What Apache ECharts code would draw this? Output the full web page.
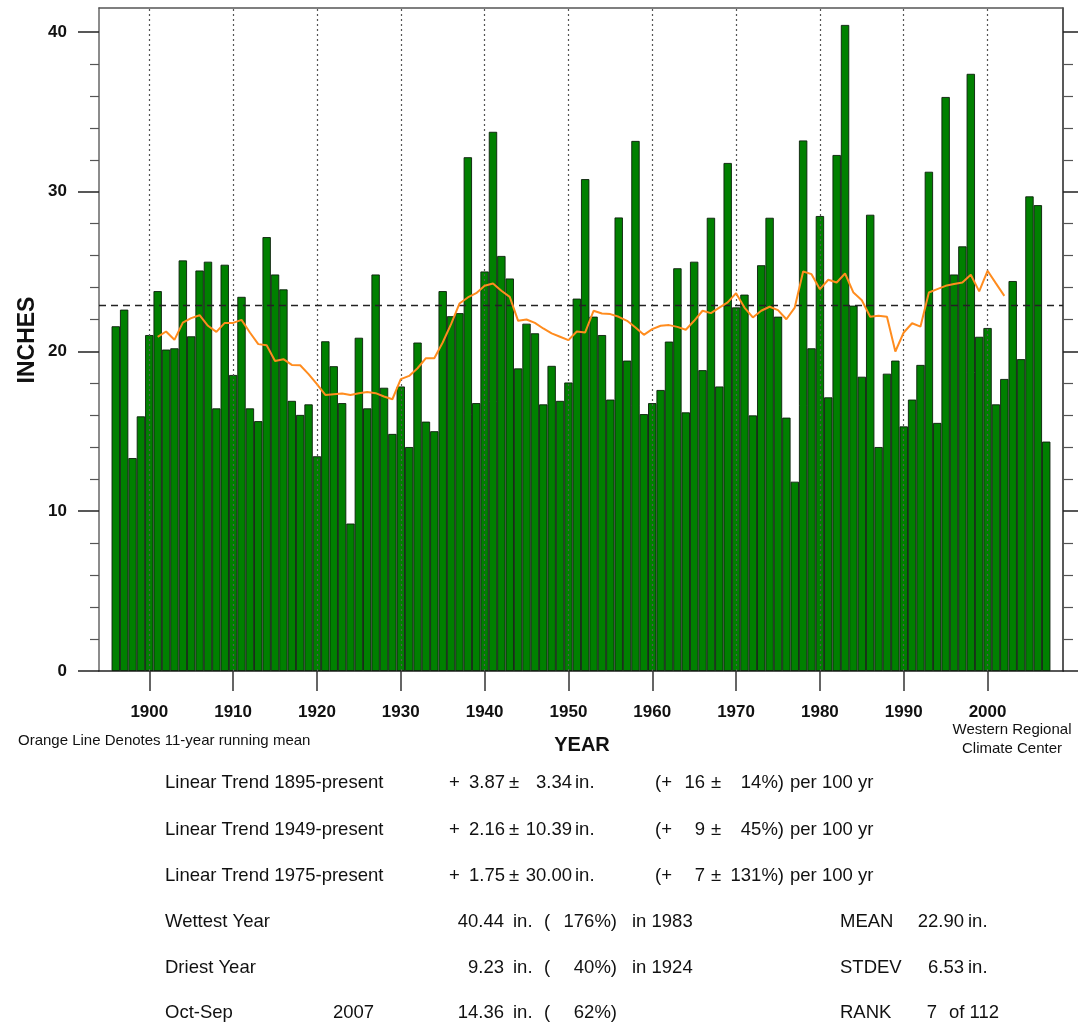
<!DOCTYPE html>
<html><head><meta charset="utf-8">
<script src="https://cdn.jsdelivr.net/npm/echarts@6/dist/echarts.min.js"></script>
<style>html,body{margin:0;padding:0;background:#fff}#c{width:1081px;height:1027px}</style>
</head><body><div id="c"></div>
<script>
// ---------- DATA ----------
const years = [1896,1897,1898,1899,1900,1901,1902,1903,1904,1905,1906,1907,1908,1909,1910,1911,1912,1913,1914,1915,1916,1917,1918,1919,1920,1921,1922,1923,1924,1925,1926,1927,1928,1929,1930,1931,1932,1933,1934,1935,1936,1937,1938,1939,1940,1941,1942,1943,1944,1945,1946,1947,1948,1949,1950,1951,1952,1953,1954,1955,1956,1957,1958,1959,1960,1961,1962,1963,1964,1965,1966,1967,1968,1969,1970,1971,1972,1973,1974,1975,1976,1977,1978,1979,1980,1981,1982,1983,1984,1985,1986,1987,1988,1989,1990,1991,1992,1993,1994,1995,1996,1997,1998,1999,2000,2001,2002,2003,2004,2005,2006,2007];
const precipInches = [21.58,22.62,13.33,15.94,21.03,23.78,20.12,20.20,25.70,20.95,25.07,25.62,16.44,25.43,18.53,23.42,16.44,15.64,27.16,24.82,23.89,16.91,16.03,16.69,13.44,20.64,19.08,16.77,9.23,20.86,16.44,24.82,17.73,14.84,17.81,14.02,20.56,15.61,15.01,23.78,22.21,22.40,32.16,16.77,25.01,33.75,25.98,24.57,18.94,21.74,21.14,16.69,19.10,16.91,18.06,23.31,30.79,22.18,21.03,16.99,28.39,19.43,33.18,16.08,16.77,17.59,20.62,25.21,16.19,25.62,18.83,28.37,17.81,31.80,22.76,23.56,16.00,25.40,28.37,22.18,15.86,11.85,33.21,20.20,28.48,17.13,32.30,40.44,22.87,18.42,28.56,14.02,18.61,19.43,15.31,16.99,19.16,31.25,15.53,35.93,24.82,26.58,37.38,20.92,21.47,16.69,18.28,24.41,19.52,29.71,29.16,14.36];
const meanYears = [1901,1902,1903,1904,1905,1906,1907,1908,1909,1910,1911,1912,1913,1914,1915,1916,1917,1918,1919,1920,1921,1922,1923,1924,1925,1926,1927,1928,1929,1930,1931,1932,1933,1934,1935,1936,1937,1938,1939,1940,1941,1942,1943,1944,1945,1946,1947,1948,1949,1950,1951,1952,1953,1954,1955,1956,1957,1958,1959,1960,1961,1962,1963,1964,1965,1966,1967,1968,1969,1970,1971,1972,1973,1974,1975,1976,1977,1978,1979,1980,1981,1982,1983,1984,1985,1986,1987,1988,1989,1990,1991,1992,1993,1994,1995,1996,1997,1998,1999,2000,2001,2002];
const runningMean = [20.92,21.25,20.73,21.81,22.09,22.27,21.61,21.23,21.79,21.79,21.98,21.19,20.46,20.39,19.41,19.52,19.16,19.14,18.58,17.95,17.28,17.33,17.37,17.28,17.39,17.47,17.39,17.18,17.01,18.27,18.47,18.95,19.58,19.58,20.56,21.71,23.00,23.38,23.65,24.11,24.26,23.80,23.42,21.92,22.00,21.79,21.44,21.13,20.92,20.71,21.25,21.19,22.55,22.38,22.34,22.17,21.92,21.50,21.04,21.40,21.61,21.65,21.54,21.36,21.92,22.55,22.40,22.75,23.07,23.65,22.75,22.13,22.55,22.80,22.59,22.02,22.75,25.01,24.84,23.90,24.49,24.32,24.88,23.69,23.21,22.17,22.23,22.17,20.00,21.19,21.77,21.56,23.69,23.90,24.11,24.22,24.32,24.80,23.76,25.05,24.26,23.48];
const meanValue = 22.90;
const xTickLabels = [1900,1910,1920,1930,1940,1950,1960,1970,1980,1990,2000];
const yMajorTicks = [0,10,20,30,40];
const yMinorTicks = [2,4,6,8,12,14,16,18,22,24,26,28,32,34,36,38];
const trendRows = [
  {label:'Linear Trend 1895-present', v:'3.87', e:'3.34', p:'16', pe:'14'},
  {label:'Linear Trend 1949-present', v:'2.16', e:'10.39', p:'9', pe:'45'},
  {label:'Linear Trend 1975-present', v:'1.75', e:'30.00', p:'7', pe:'131'}
];
const statRows = [
  {label:'Wettest Year', year:'', v:'40.44', pct:'176%)', when:'in 1983', sLabel:'MEAN', sVal:'22.90', sUnit:'in.'},
  {label:'Driest Year', year:'', v:'9.23', pct:'40%)', when:'in 1924', sLabel:'STDEV', sVal:'6.53', sUnit:'in.'},
  {label:'Oct-Sep', year:'2007', v:'14.36', pct:'62%)', when:'', sLabel:'RANK', sVal:'7', sUnit:'of 112'}
];

// ---------- CHART ----------
const FF = "'Liberation Sans', Arial, Helvetica, sans-serif";
const chart = echarts.init(document.getElementById('c'), null, {renderer:'canvas'});
const gridL = 99, gridR = 18, gridT = 8, gridB = 356;
const xMin = 1894, xMax = 2009, yMax = 41.5;
const barW = (1081 - gridL - gridR) / (xMax - xMin);

function txt(s, x, y, align, size, weight, extra) {
  return Object.assign({type:'text', x:x, y:y, silent:true, z:100,
    style:{text:s, fill:'#111', textAlign:align, textVerticalAlign:'middle',
      fontSize:size, fontWeight:weight||'normal', fontFamily:FF}}, extra||{});
}
const graphics = [];
graphics.push(txt('INCHES', 28, 340, 'center', 23, 'bold', {rotation: Math.PI/2}));
graphics.push(txt('YEAR', 582, 745, 'center', 20, 'bold'));
graphics.push(txt('Orange Line Denotes 11-year running mean', 18, 741, 'left', 15));
graphics.push(txt('Western Regional', 1012, 730, 'center', 15));
graphics.push(txt('Climate Center', 1012, 749, 'center', 15));
const rowY = [783, 830, 876, 922, 968, 1013];
const TS = 18.5;
trendRows.forEach((r, i) => {
  const y = rowY[i];
  graphics.push(txt(r.label, 165, y, 'left', TS));
  graphics.push(txt('+', 449, y, 'left', TS));
  graphics.push(txt(r.v, 505, y, 'right', TS));
  graphics.push(txt('\u00b1', 509, y, 'left', TS));
  graphics.push(txt(r.e, 572, y, 'right', TS));
  graphics.push(txt('in.', 575, y, 'left', TS));
  graphics.push(txt('(+', 655, y, 'left', TS));
  graphics.push(txt(r.p, 705, y, 'right', TS));
  graphics.push(txt('\u00b1', 711, y, 'left', TS));
  graphics.push(txt(r.pe + '%)', 784, y, 'right', TS));
  graphics.push(txt('per 100 yr', 790, y, 'left', TS));
});
statRows.forEach((r, i) => {
  const y = rowY[3 + i];
  graphics.push(txt(r.label, 165, y, 'left', TS));
  if (r.year) graphics.push(txt(r.year, 333, y, 'left', TS));
  graphics.push(txt(r.v, 504, y, 'right', TS));
  graphics.push(txt('in.', 513, y, 'left', TS));
  graphics.push(txt('(', 544, y, 'left', TS));
  graphics.push(txt(r.pct, 617, y, 'right', TS));
  if (r.when) graphics.push(txt(r.when, 632, y, 'left', TS));
  graphics.push(txt(r.sLabel, 840, y, 'left', TS));
  if (r.sLabel === 'RANK') {
    graphics.push(txt(r.sVal, 937, y, 'right', TS));
    graphics.push(txt(r.sUnit, 949, y, 'left', TS));
  } else {
    graphics.push(txt(r.sVal, 964, y, 'right', TS));
    graphics.push(txt(r.sUnit, 968, y, 'left', TS));
  }
});

const axisLabelBold = {fontSize:17, fontWeight:'bold', color:'#111', fontFamily:FF};
const gridMarks = xTickLabels.map(v => ({xAxis: v, lineStyle:{color:'#555', type:[2,3], width:1.2}}));
gridMarks.push({yAxis: meanValue, lineStyle:{color:'#222', type:[7,5], width:1.3}});

const option = {
  animation:false,
  backgroundColor:'#fff',
  grid:{left:gridL, right:gridR, top:gridT, bottom:gridB, containLabel:false},
  xAxis:[
    {type:'value', min:xMin, max:xMax, position:'bottom',
     axisLine:{show:true, onZero:false, lineStyle:{color:'#222', width:1.5}},
     axisTick:{show:true, customValues:xTickLabels, length:20, lineStyle:{color:'#333', width:1.5}},
     axisLabel:Object.assign({customValues:xTickLabels, margin:33, formatter:v => String(v)}, axisLabelBold),
     splitLine:{show:false}},
    {type:'value', min:xMin, max:xMax, position:'top',
     axisLine:{show:true, onZero:false, lineStyle:{color:'#555', width:1.5}},
     axisTick:{show:false}, axisLabel:{show:false}, splitLine:{show:false}}
  ],
  yAxis:[
    {type:'value', min:0, max:yMax, position:'left',
     axisLine:{show:true, onZero:false, lineStyle:{color:'#666', width:1.5}},
     axisTick:{show:true, customValues:yMajorTicks, length:21, lineStyle:{color:'#222', width:1.5}},
     axisLabel:Object.assign({customValues:yMajorTicks, margin:32}, axisLabelBold),
     splitLine:{show:false}},
    {type:'value', min:0, max:yMax, position:'left',
     axisLine:{show:false}, axisLabel:{show:false}, splitLine:{show:false},
     axisTick:{show:true, customValues:yMinorTicks, length:9, lineStyle:{color:'#555', width:1.2}}},
    {type:'value', min:0, max:yMax, position:'right',
     axisLine:{show:true, onZero:false, lineStyle:{color:'#222', width:1.5}},
     axisTick:{show:true, customValues:yMajorTicks, length:15, lineStyle:{color:'#222', width:1.5}},
     axisLabel:{show:false}, splitLine:{show:false}},
    {type:'value', min:0, max:yMax, position:'right',
     axisLine:{show:false}, axisLabel:{show:false}, splitLine:{show:false},
     axisTick:{show:true, customValues:yMinorTicks, length:10, lineStyle:{color:'#555', width:1.2}}}
  ],
  series:[
    {type:'bar', xAxisIndex:0, yAxisIndex:0,
     data: years.map((y, i) => [y, precipInches[i]]),
     barWidth: barW,
     itemStyle:{color:'#008000', borderColor:'#0a1f0a', borderWidth:0.9},
     markLine:{silent:true, symbol:['none','none'], label:{show:false}, data:gridMarks, animation:false},
     z:2},
    {type:'line', xAxisIndex:0, yAxisIndex:0,
     data: meanYears.map((y, i) => [y, runningMean[i]]),
     showSymbol:false, symbol:'none',
     lineStyle:{color:'#ff8c1e', width:2}, z:5}
  ],
  graphic: graphics
};
chart.setOption(option);
</script>
</body></html>
